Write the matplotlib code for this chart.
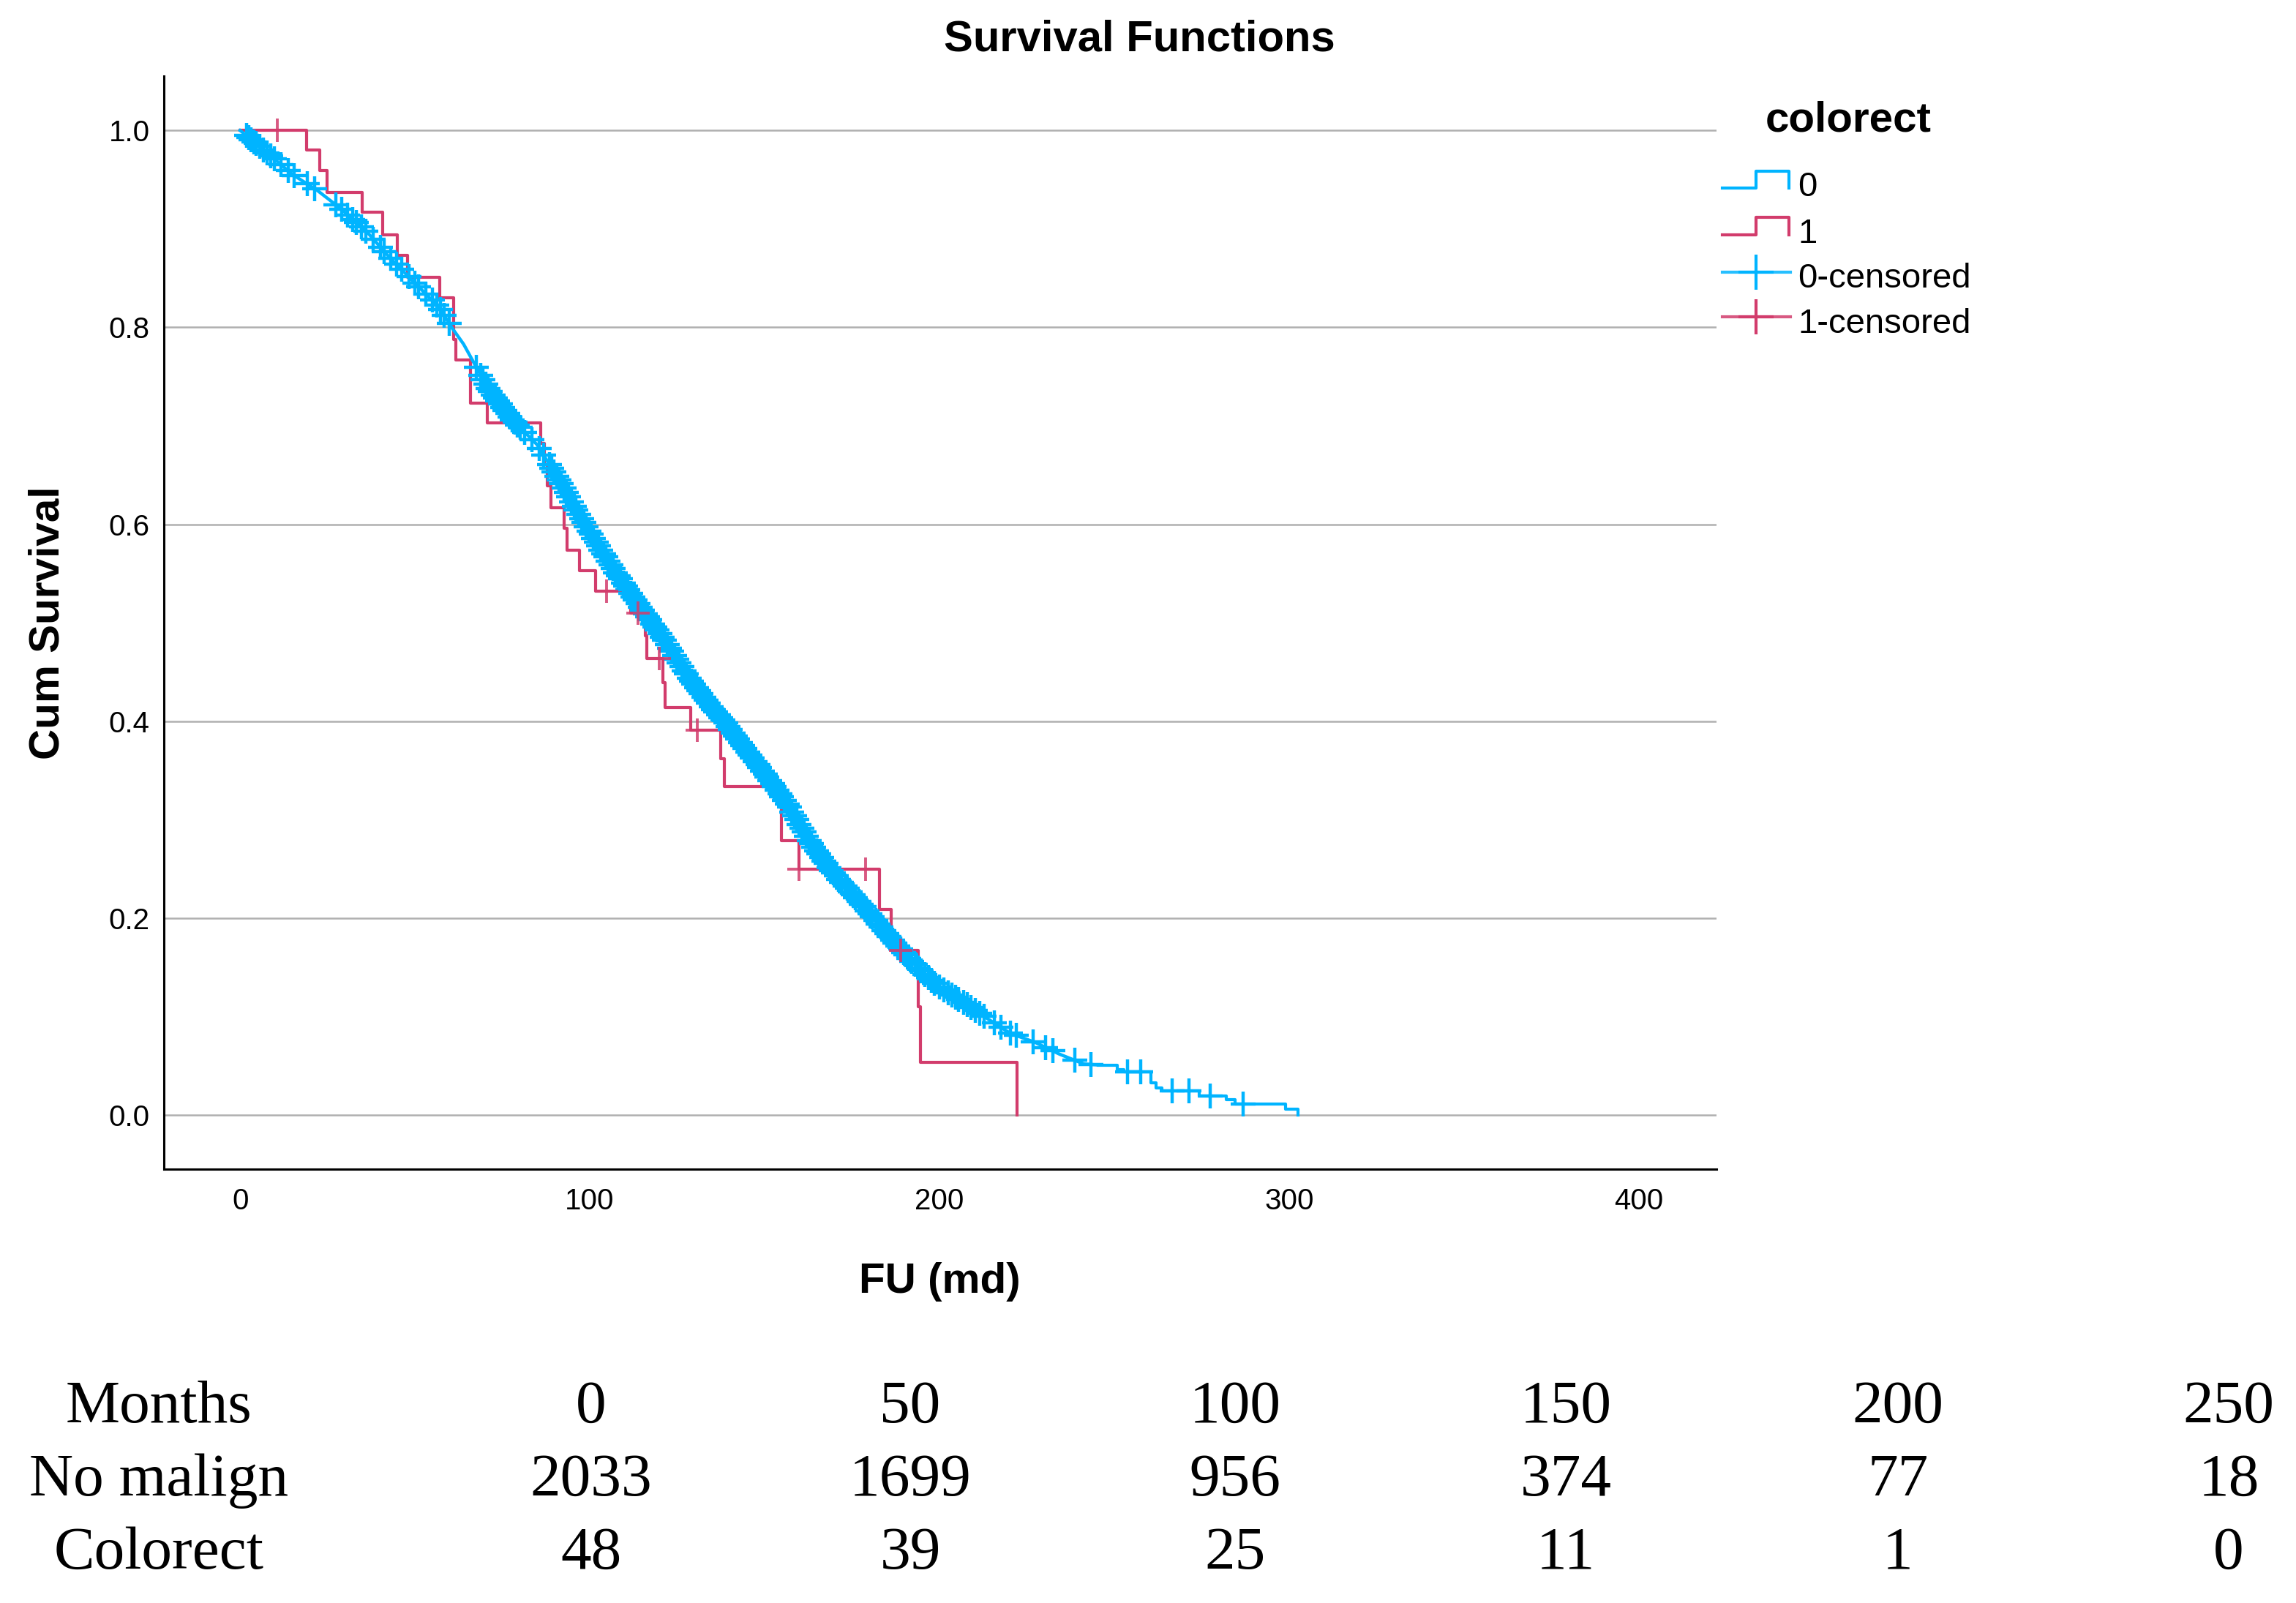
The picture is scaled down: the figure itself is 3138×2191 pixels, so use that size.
import numpy as np
import matplotlib
matplotlib.use("Agg")
import matplotlib.pyplot as plt
from matplotlib.lines import Line2D

# Kaplan-Meier curve of colorect = 1 (step corners)
red_time = [0, 19.0, 22.8, 24.8, 34.8, 40.8, 45.0, 47.9, 57.0, 61.0, 61.7, 65.8, 70.7,
            85.9, 87.0, 87.8, 88.8, 92.7, 93.5, 97.0, 101.6, 111.7, 115.8, 116.4, 121.0,
            121.5, 128.8, 137.5, 138.4, 154.8, 159.9, 182.8, 186.1, 194.0, 194.5, 222.1]
red_surv = [1.0, 0.980, 0.959, 0.937, 0.917, 0.894, 0.873, 0.851, 0.830, 0.788, 0.767, 0.723, 0.703,
            0.682, 0.661, 0.639, 0.617, 0.596, 0.574, 0.553, 0.532, 0.510, 0.487, 0.464, 0.439,
            0.414, 0.391, 0.362, 0.334, 0.279, 0.250, 0.209, 0.167, 0.110, 0.054, 0.0]
red_censored = [10.6, 104.8, 113.7, 119.8, 130.8, 159.9, 178.9, 188.9]

# Curve of colorect = 0 (many tiny steps, read as a line) and its stepped tail
blue_time = [0, 1.8, 8.1, 15.1, 22.1, 29.0, 36.0, 43.0, 50.0, 57.0, 60.5, 63.9, 70.9, 77.9,
             84.9, 91.9, 98.5, 107.2, 114.2, 121.2, 128.2, 135.1, 138.5, 142.1, 149.1, 156.1,
             162.5, 168.8, 178.3, 185.4, 192.4, 199.4, 206.3, 213.3, 220.3, 227.3, 234.3, 241.3, 245.4]
blue_surv = [1.0, 0.995, 0.976, 0.955, 0.939, 0.920, 0.898, 0.870, 0.845, 0.820, 0.800, 0.783, 0.738, 0.706,
             0.681, 0.641, 0.600, 0.552, 0.517, 0.483, 0.445, 0.413, 0.400, 0.383, 0.351, 0.318,
             0.280, 0.249, 0.212, 0.182, 0.155, 0.131, 0.116, 0.099, 0.083, 0.074, 0.062, 0.052, 0.051]
blue_tail_time = [245.4, 250.8, 252.7, 260.5, 262.0, 263.5, 274.3, 282.1, 284.5, 298.9, 302.6]
blue_tail_surv = [0.051, 0.046, 0.044, 0.033, 0.028, 0.0245, 0.0196, 0.016, 0.0115, 0.006, 0.0]
blue_censored = [
    1.8, 2.5, 3.2, 4.0, 4.6, 5.6, 6.7, 7.7, 8.8, 9.8, 11.6, 13.7, 15.4, 19.2, 21.2,
    27.3, 29.0, 30.8, 32.2, 33.2, 34.6, 36.0, 38.1, 40.2, 41.2, 43.0, 44.7, 46.1,
    48.2, 50.0, 51.0, 53.1, 54.9, 56.3, 57.3, 58.4, 59.8, 67.5,
    68.8, 69.5, 70.2, 70.9, 71.6, 72.3, 73.0, 73.7, 74.4, 75.1, 75.8, 76.5, 77.2, 77.9,
    78.6, 79.3, 80.0, 81.4, 83.5, 85.6, 86.8, 88.4, 89.1, 89.8, 90.5, 91.2, 91.9, 92.6,
    93.3, 94.0, 94.8, 95.5, 96.1, 96.9, 97.6, 98.2, 99.0, 99.7, 100.3, 101.1, 101.8,
    102.4, 103.2, 103.9, 104.5, 105.3, 106.0, 106.6, 107.4, 108.1, 108.7, 109.5, 110.2,
    110.8, 111.6, 112.3, 112.9, 113.7, 114.4, 115.0, 115.8, 116.5, 117.1, 117.9, 118.6,
    119.2, 120.0, 120.7, 121.3, 122.1, 122.8, 123.4, 124.2, 124.9, 125.5, 126.3, 127.0,
    127.6, 128.4, 129.1, 129.7, 130.5, 131.2, 131.8, 132.6, 133.3, 133.9, 134.7, 135.4,
    136.0, 136.8, 137.5, 138.1, 138.9, 139.6, 140.2, 141.0, 141.7, 142.3, 143.1, 143.8,
    144.4, 145.2, 145.9, 146.5, 147.3, 148.0, 148.6, 149.4, 150.1, 150.7, 151.5, 152.2,
    152.8, 153.6, 154.3, 154.9, 155.7, 156.4, 157.0, 157.8, 158.5, 159.1, 159.9, 160.6,
    161.2, 162.0, 162.7, 163.3, 164.1, 164.8, 165.4, 166.2, 166.9, 167.5, 168.3, 169.0,
    169.6, 170.4, 171.2, 172.0, 172.9, 173.6, 174.5, 175.3, 176.0, 176.9, 177.7, 178.4,
    179.3, 180.1, 180.8, 181.7, 182.5, 183.2, 184.1, 184.9, 185.6, 186.5, 187.3, 188.0,
    188.9, 189.7, 190.4, 191.3, 192.1, 193.0, 193.9, 194.8, 195.9, 196.8, 197.6, 198.5,
    199.9, 201.2, 202.4, 203.5, 204.6, 205.5, 206.8, 207.9, 209.0, 210.3, 211.6, 212.8,
    215.7, 217.6, 220.2, 222.0, 226.7, 230.4, 232.4, 238.7, 243.4, 253.8, 257.5, 266.6,
    271.3, 277.4, 286.8]

# Number at risk table
risk_months = ["0", "50", "100", "150", "200", "250"]
risk_no_malign = ["2033", "1699", "956", "374", "77", "18"]
risk_colorect = ["48", "39", "25", "11", "1", "0"]

BLUE = "#00b4ff"
RED = "#d23c6c"
GRID = "#b0b0b0"
SANS = ["Liberation Sans", "DejaVu Sans"]
SERIF = ["Liberation Serif", "DejaVu Serif"]

W, H = 3138, 2191


# Convert pixel positions of the reference into figure fractions.
def fx(x):
    return x / W


def fy(y):
    return 1 - y / H


# Survival value of the red step function at time t.
def red_at(t):
    i = np.searchsorted(red_time, t, side="right") - 1
    return red_surv[i]


# Survival value of the blue curve at time t.
def blue_at(t):
    if t <= blue_tail_time[0]:
        return np.interp(t, blue_time, blue_surv)
    i = np.searchsorted(blue_tail_time, t, side="right") - 1
    return blue_tail_surv[i]


fig = plt.figure(figsize=(W / 100, H / 100), dpi=100)
ax = fig.add_axes([fx(224), fy(1598), (2346 - 224) / W, (1598 - 104) / H])

# Curves
ax.step(red_time, red_surv, where="post", color=RED, lw=3.0, zorder=2)
ax.plot(blue_time, blue_surv, color=BLUE, lw=3.2, zorder=3)
ax.step(blue_tail_time, blue_tail_surv, where="post", color=BLUE, lw=3.0, zorder=3)

# Censor marks
ax.plot(blue_censored, [blue_at(t) for t in blue_censored], ls="none", marker="+",
        ms=24, mew=3.2, color=BLUE, zorder=4)
ax.plot(red_censored, [red_at(t) for t in red_censored], ls="none", marker="+",
        ms=23, mew=2.8, color=RED, alpha=0.85, zorder=5)

ax.set_xlim(-21.8, 422.2)
ax.set_ylim(-0.0548, 1.0552)
ax.set_xticks([0, 100, 200, 300, 400])
ax.set_yticks([0.0, 0.2, 0.4, 0.6, 0.8, 1.0])
ax.set_yticklabels(["0.0", "0.2", "0.4", "0.6", "0.8", "1.0"])
ax.tick_params(length=0, labelsize=29)
ax.tick_params(axis="x", pad=18)
ax.tick_params(axis="y", pad=14)
for lab in ax.get_xticklabels() + ax.get_yticklabels():
    lab.set_family(SANS)
ax.yaxis.grid(True, color=GRID, lw=1.8)
ax.set_axisbelow(True)
for side in ["top", "right"]:
    ax.spines[side].set_visible(False)
for side in ["left", "bottom"]:
    ax.spines[side].set_linewidth(2.2)

# Titles and axis labels
fig.text(fx(1557), fy(54), "Survival Functions", ha="center", va="center",
         fontsize=43, weight="bold", family=SANS)
fig.text(fx(1284), fy(1752), "FU (md)", ha="center", va="center",
         fontsize=42, weight="bold", family=SANS)
fig.text(fx(66), fy(851), "Cum Survival", ha="center", va="center", rotation=90,
         fontsize=42, weight="bold", family=SANS)

# Legend drawn by hand to copy the SPSS look
fig.text(fx(2413), fy(180), "colorect", ha="left", va="baseline",
         fontsize=42, weight="bold", family=SANS)
for low, high, col in [(257, 234, BLUE), (321, 297, RED)]:
    fig.add_artist(Line2D([fx(2354), fx(2400), fx(2400), fx(2445), fx(2445)],
                          [fy(low), fy(low), fy(high), fy(high), fy(low)],
                          color=col, lw=3.0, transform=fig.transFigure))
for yy, col in [(372, BLUE), (433, RED)]:
    fig.add_artist(Line2D([fx(2354), fx(2447)], [fy(yy), fy(yy)], color=col, lw=3.0,
                          alpha=0.85, transform=fig.transFigure))
    fig.add_artist(Line2D([fx(2400)], [fy(yy)], color=col, marker="+", ms=35, mew=3.0,
                          ls="none", transform=fig.transFigure))
for yy, txt in [(268, "0"), (332, "1"), (393, "0-censored"), (455, "1-censored")]:
    fig.text(fx(2457), fy(yy), txt, ha="left", va="baseline", fontsize=34, family=SANS)

# Number at risk table
col_x = [808, 1244, 1688, 2140, 2594, 3046]
rows = [("Months", risk_months, 1944), ("No malign", risk_no_malign, 2044),
        ("Colorect", risk_colorect, 2144)]
for name, vals, yy in rows:
    fig.text(fx(217), fy(yy), name, ha="center", va="baseline", fontsize=60, family=SERIF)
    for x, v in zip(col_x, vals):
        fig.text(fx(x), fy(yy), v, ha="center", va="baseline", fontsize=60, family=SERIF)

fig.savefig("out.png", dpi=100, facecolor="white")
